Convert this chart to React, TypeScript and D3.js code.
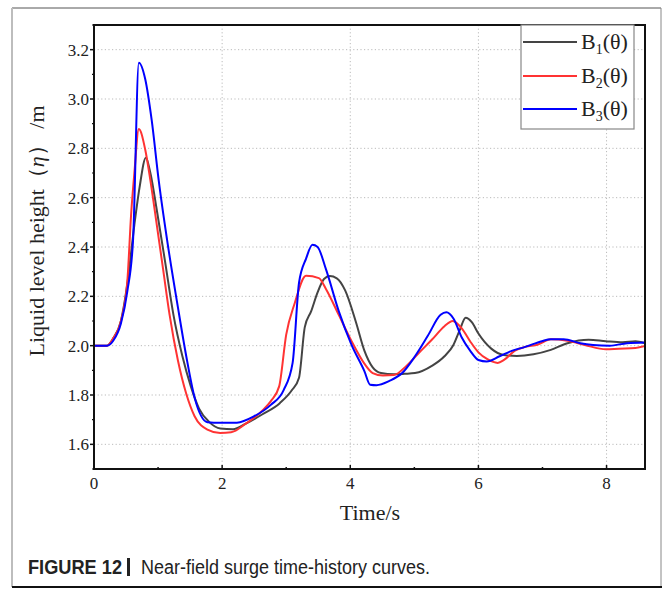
import React from "react";
import * as d3 from "d3";

const timeB1 = [0, 0.2, 0.3, 0.42, 0.52, 0.63, 0.71, 0.81, 0.88, 0.98, 1.11, 1.24, 1.38, 1.51, 1.64, 1.8, 1.97, 2.17, 2.37, 2.63, 2.9, 3.09, 3.2, 3.29, 3.39, 3.49, 3.59, 3.68, 3.79, 3.92, 4.09, 4.22, 4.35, 4.48, 4.68, 4.85, 5.01, 5.28, 5.47, 5.61, 5.71, 5.8, 5.9, 6.0, 6.2, 6.4, 6.6, 6.86, 7.13, 7.39, 7.72, 7.99, 8.25, 8.45, 8.6];
const valB1 = [2.0, 2.0, 2.03, 2.1, 2.25, 2.49, 2.64, 2.762, 2.7, 2.55, 2.34, 2.125, 1.957, 1.836, 1.745, 1.69, 1.664, 1.661, 1.684, 1.722, 1.767, 1.82, 1.87, 2.075, 2.14, 2.216, 2.27, 2.282, 2.273, 2.224, 2.094, 1.98, 1.912, 1.889, 1.884, 1.886, 1.889, 1.919, 1.957, 2.003, 2.064, 2.113, 2.094, 2.049, 1.988, 1.962, 1.958, 1.965, 1.983, 2.01, 2.024, 2.018, 2.014, 2.018, 2.01];

const timeB2 = [0, 0.2, 0.3, 0.42, 0.52, 0.58, 0.63, 0.7, 0.8, 0.88, 0.98, 1.08, 1.18, 1.31, 1.44, 1.57, 1.77, 1.97, 2.14, 2.37, 2.63, 2.76, 2.89, 3.0, 3.13, 3.31, 3.51, 3.62, 3.82, 4.02, 4.22, 4.35, 4.51, 4.68, 4.88, 5.08, 5.28, 5.47, 5.6, 5.74, 5.87, 6.0, 6.14, 6.3, 6.4, 6.57, 6.73, 6.93, 7.13, 7.39, 7.66, 7.99, 8.19, 8.45, 8.6];
const valB2 = [2.0, 2.0, 2.03, 2.1, 2.26, 2.535, 2.7, 2.878, 2.794, 2.67, 2.49, 2.307, 2.125, 1.94, 1.805, 1.714, 1.66, 1.646, 1.649, 1.684, 1.737, 1.775, 1.835, 2.045, 2.17, 2.283, 2.274, 2.23, 2.125, 2.018, 1.927, 1.889, 1.879, 1.881, 1.919, 1.973, 2.026, 2.079, 2.1, 2.07, 2.018, 1.973, 1.945, 1.93, 1.942, 1.98, 1.995, 2.005, 2.026, 2.02, 2.003, 1.985, 1.988, 1.991, 1.999];

const timeB3 = [0, 0.2, 0.3, 0.42, 0.52, 0.61, 0.7, 0.8, 0.9, 1.01, 1.14, 1.31, 1.44, 1.57, 1.77, 1.97, 2.23, 2.5, 2.76, 2.96, 3.1, 3.2, 3.31, 3.41, 3.49, 3.62, 3.82, 4.02, 4.22, 4.31, 4.41, 4.61, 4.81, 5.01, 5.21, 5.41, 5.5, 5.61, 5.74, 5.87, 6.0, 6.13, 6.33, 6.53, 6.73, 6.99, 7.13, 7.33, 7.59, 7.79, 8.05, 8.32, 8.6];
const valB3 = [2.0, 2.0, 2.02, 2.09, 2.22, 2.43, 3.147, 3.08, 2.915, 2.67, 2.43, 2.155, 1.957, 1.79, 1.69, 1.687, 1.688, 1.714, 1.76, 1.82, 1.93, 2.255, 2.353, 2.409, 2.4, 2.31, 2.14, 2.003, 1.897, 1.842, 1.84, 1.857, 1.889, 1.957, 2.04, 2.125, 2.135, 2.11, 2.033, 1.98, 1.942, 1.936, 1.957, 1.98, 1.995, 2.018, 2.026, 2.026, 2.01, 2.003, 2.0, 2.01, 2.013];

const seriesNames = ["B1", "B2", "B3"];
const seriesColors = ["#444444", "#ff3333", "#0000ff"];
const xTicks = [0, 2, 4, 6, 8];
const xMinorTicks = [1, 3, 5, 7];
const yTicks = [1.6, 1.8, 2.0, 2.2, 2.4, 2.6, 2.8, 3.0, 3.2];
const yMinorTicks = [1.5, 1.7, 1.9, 2.1, 2.3, 2.5, 2.7, 2.9, 3.1, 3.3];

const L = 94, R = 645, T = 25, B = 469;

export default function App() {
  const x = d3.scaleLinear().domain([0, 8.6]).range([L, R]);
  const y = d3.scaleLinear().domain([1.5, 3.3]).range([B, T]);
  const line = d3
    .line<[number, number]>()
    .x((d) => x(d[0]))
    .y((d) => y(d[1]))
    .curve(d3.curveMonotoneX);
  const series = [
    d3.zip(timeB1, valB1) as [number, number][],
    d3.zip(timeB2, valB2) as [number, number][],
    d3.zip(timeB3, valB3) as [number, number][],
  ];
  const serif = "'Liberation Serif', 'Times New Roman', serif";
  const legendY = [42, 76, 109];
  return (
    <svg
      width={664}
      height={589}
      style={{ position: "absolute", left: 0, top: 0, background: "#fff" }}
    >
      {/* outer frame */}
      <line x1={12} y1={8} x2={661} y2={8} stroke="#555" strokeWidth={1} />
      <line x1={12} y1={8} x2={12} y2={587} stroke="#bdbdbd" strokeWidth={2} />
      <line x1={661} y1={8} x2={661} y2={587} stroke="#888" strokeWidth={1} />
      <line x1={12} y1={587} x2={662} y2={587} stroke="#111" strokeWidth={2} />

      <defs>
        <clipPath id="plotclip">
          <rect x={L} y={T} width={R - L} height={B - T} />
        </clipPath>
      </defs>

      {/* grid */}
      {xTicks.slice(1).map((t) => (
        <line key={"gx" + t} x1={x(t)} x2={x(t)} y1={T} y2={B} stroke="#bbb" strokeWidth={1} strokeDasharray="1.2,2.4" />
      ))}
      {yTicks.map((t) => (
        <line key={"gy" + t} x1={L} x2={R} y1={y(t)} y2={y(t)} stroke="#bbb" strokeWidth={1} strokeDasharray="1.2,2.4" />
      ))}

      {/* series */}
      <g clipPath="url(#plotclip)">
        {series.map((s, i) => (
          <path key={i} d={line(s) || ""} fill="none" stroke={seriesColors[i]} strokeWidth={2} strokeLinejoin="round" />
        ))}
      </g>

      {/* axes box */}
      <rect x={L} y={T} width={R - L} height={B - T} fill="none" stroke="#111" strokeWidth={2} />

      {/* x ticks */}
      {xTicks.map((t) => (
        <g key={"xt" + t}>
          <line x1={x(t)} x2={x(t)} y1={B} y2={B - 4} stroke="#111" strokeWidth={1.5} />
          <text x={x(t)} y={489} textAnchor="middle" fontFamily={serif} fontSize={17} fill="#222">
            {t}
          </text>
        </g>
      ))}
      {xMinorTicks.map((t) => (
        <line key={"xm" + t} x1={x(t)} x2={x(t)} y1={B} y2={B - 2} stroke="#111" strokeWidth={1.5} />
      ))}

      {/* y ticks */}
      {yTicks.map((t) => (
        <g key={"yt" + t}>
          <line x1={L} x2={L - 4} y1={y(t)} y2={y(t)} stroke="#111" strokeWidth={1.5} />
          <text x={89} y={y(t) + 6} textAnchor="end" fontFamily={serif} fontSize={17} fill="#222">
            {t.toFixed(1)}
          </text>
        </g>
      ))}
      {yMinorTicks.map((t) => (
        <line key={"ym" + t} x1={L} x2={L - 2} y1={y(t)} y2={y(t)} stroke="#111" strokeWidth={1.2} />
      ))}

      {/* axis titles */}
      <text x={370} y={520} textAnchor="middle" fontFamily={serif} fontSize={22} fill="#222">
        Time/s
      </text>
      <text
        transform="translate(44,231) rotate(-90)"
        textAnchor="middle"
        fontFamily={serif}
        fontSize={22}
        fill="#222"
      >
        Liquid level height（<tspan fontStyle="italic">η</tspan>） /m
      </text>

      {/* legend */}
      <rect x={521} y={25} width={113} height={104} fill="#fff" stroke="#888" strokeWidth={1.2} />
      {seriesNames.map((n, i) => (
        <g key={"lg" + i}>
          <line x1={523} x2={577} y1={legendY[i]} y2={legendY[i]} stroke={seriesColors[i]} strokeWidth={2} />
          <text x={581} y={legendY[i] + 7} fontFamily={serif} fontSize={22} fill="#222">
            B<tspan fontSize={14} dy={5}>{i + 1}</tspan>
            <tspan dy={-5}>(θ)</tspan>
          </text>
        </g>
      ))}

      {/* caption */}
      <text x={28} y={574} fontFamily="'Liberation Sans Narrow', 'Arial Narrow', 'Liberation Sans', Arial, sans-serif" fontSize={20} fontWeight="bold" fill="#222" textLength={94} lengthAdjust="spacingAndGlyphs">
        FIGURE 12
      </text>
      <rect x={127} y={558} width={3} height={18} fill="#222" />
      <text x={141} y={574} fontFamily="'Liberation Sans Narrow', 'Arial Narrow', 'Liberation Sans', Arial, sans-serif" fontSize={20} fill="#222" textLength={289} lengthAdjust="spacingAndGlyphs">
        Near-field surge time-history curves.
      </text>
    </svg>
  );
}
